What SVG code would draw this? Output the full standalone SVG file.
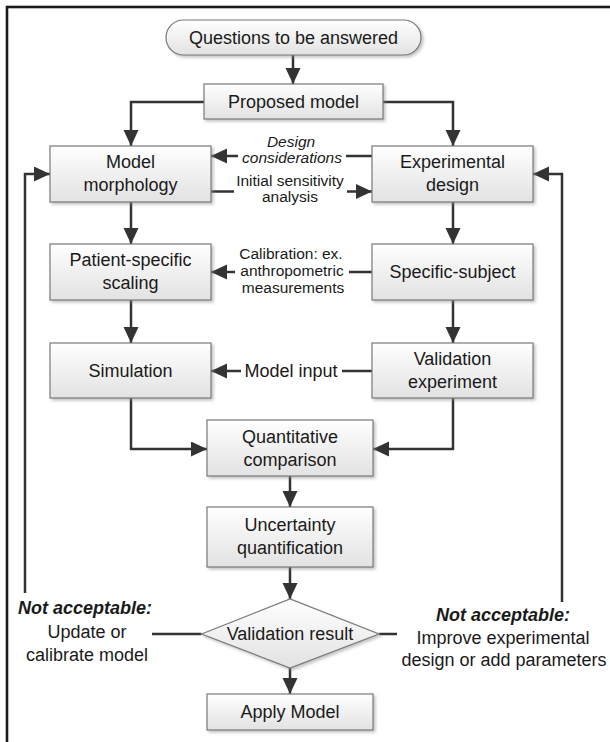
<svg xmlns="http://www.w3.org/2000/svg" width="610" height="742" viewBox="0 0 610 742">
<style>
  .box { fill: url(#g); stroke: #7a7a7a; stroke-width: 1.2; filter: url(#sh); }
  .t { font-family: "Liberation Sans", Arial, sans-serif; font-size: 18px; fill: #1a1a1a; text-anchor: middle; }
  .s { font-family: "Liberation Sans", Arial, sans-serif; font-size: 15.5px; fill: #1a1a1a; text-anchor: middle; }
  .i { font-style: italic; }
  .bi { font-style: italic; font-weight: bold; }
  .c { fill: none; stroke: #333; stroke-width: 2.5; }
  .a { marker-end: url(#ah); }
</style>
<defs>
  <linearGradient id="g" x1="0" y1="0" x2="0" y2="1">
    <stop offset="0" stop-color="#ffffff"/>
    <stop offset="1" stop-color="#e2e2e2"/>
  </linearGradient>
  <filter id="sh" x="-10%" y="-10%" width="130%" height="140%">
    <feDropShadow dx="2" dy="2" stdDeviation="1.5" flood-color="#888" flood-opacity="0.5"/>
  </filter>
  <marker id="ah" markerUnits="userSpaceOnUse" markerWidth="17" markerHeight="16" refX="16" refY="7.5" orient="auto">
    <path d="M0,0 L16,7.5 L0,15 Z" fill="#333"/>
  </marker>
</defs>

<rect x="7" y="7" width="640" height="780" fill="none" stroke="#1a1a1a" stroke-width="2.6"/>

<g id="connectors">
  <path class="c a" d="M293,55 V84"/>
  <path class="c a" d="M204,102 H131 V146"/>
  <path class="c a" d="M383,102 H453 V146"/>
  <path class="c a" d="M372,156 H346 M238,156 H211"/>
  <path class="c a" d="M211,191.5 H234 M347,191.5 H372"/>
  <path class="c a" d="M372,272 H349 M235,272 H211"/>
  <path class="c a" d="M372,371 H342 M241,371 H211"/>
  <path class="c a" d="M131,202 V244"/>
  <path class="c a" d="M453,202 V244"/>
  <path class="c a" d="M131,300 V343"/>
  <path class="c a" d="M453,300 V343"/>
  <path class="c a" d="M131,398 V449 H207"/>
  <path class="c a" d="M453,398 V449 H373"/>
  <path class="c a" d="M290,476 V507"/>
  <path class="c a" d="M290,567 V599"/>
  <path class="c a" d="M290,668 V694"/>
  <path class="c" d="M201.5,634 H152"/>
  <path class="c a" d="M25,593 V174 H50"/>
  <path class="c" d="M379,634 H397"/>
  <path class="c a" d="M562,602 V174 H533"/>
  <text class="s i" x="291" y="147">Design</text>
  <text class="s i" x="292" y="163">considerations</text>
  <text class="s" x="290" y="186">Initial sensitivity</text>
  <text class="s" x="290" y="202">analysis</text>
  <text class="s" x="291" y="259">Calibration: ex.</text>
  <text class="s" x="292" y="276">anthropometric</text>
  <text class="s" x="293" y="293">measurements</text>
  <text class="t" x="291" y="377">Model input</text>
</g>

<g id="questions">
  <rect class="box" x="166" y="20" width="255" height="35" rx="17.5"/>
  <text class="t" x="293.5" y="44">Questions to be answered</text>
</g>
<g id="proposed">
  <rect class="box" x="204" y="84" width="179" height="35"/>
  <text class="t" x="293.5" y="108">Proposed model</text>
</g>
<g id="morphology">
  <rect class="box" x="50" y="146" width="161" height="56"/>
  <text class="t" x="130.5" y="168">Model</text>
  <text class="t" x="130.5" y="191">morphology</text>
</g>
<g id="expdesign">
  <rect class="box" x="372" y="146" width="161" height="56"/>
  <text class="t" x="452.5" y="168">Experimental</text>
  <text class="t" x="452.5" y="191">design</text>
</g>
<g id="scaling">
  <rect class="box" x="50" y="244" width="161" height="56"/>
  <text class="t" x="130.5" y="266">Patient-specific</text>
  <text class="t" x="130.5" y="289">scaling</text>
</g>
<g id="subject">
  <rect class="box" x="372" y="244" width="161" height="56"/>
  <text class="t" x="452.5" y="278">Specific-subject</text>
</g>
<g id="simulation">
  <rect class="box" x="50" y="343" width="161" height="55"/>
  <text class="t" x="130.5" y="377">Simulation</text>
</g>
<g id="valexp">
  <rect class="box" x="372" y="343" width="161" height="55"/>
  <text class="t" x="452.5" y="365">Validation</text>
  <text class="t" x="452.5" y="388">experiment</text>
</g>
<g id="quant">
  <rect class="box" x="207" y="420" width="166" height="56"/>
  <text class="t" x="290" y="443">Quantitative</text>
  <text class="t" x="290" y="466">comparison</text>
</g>
<g id="uncert">
  <rect class="box" x="207" y="507" width="166" height="60"/>
  <text class="t" x="290" y="531">Uncertainty</text>
  <text class="t" x="290" y="554">quantification</text>
</g>
<g id="valresult">
  <polygon class="box" points="201.5,634 290,599 379,634 290,668"/>
  <text class="t" x="290" y="640">Validation result</text>
</g>
<g id="apply">
  <rect class="box" x="207" y="694" width="166" height="36"/>
  <text class="t" x="290" y="718">Apply Model</text>
</g>
<g id="left-note">
  <text class="t bi" x="85" y="614">Not acceptable:</text>
  <text class="t" x="87" y="638">Update or</text>
  <text class="t" x="87" y="661">calibrate model</text>
</g>
<g id="right-note">
  <text class="t bi" x="503" y="621">Not acceptable:</text>
  <text class="t" x="503" y="644">Improve experimental</text>
  <text class="t" x="504" y="666">design or add parameters</text>
</g>
</svg>
